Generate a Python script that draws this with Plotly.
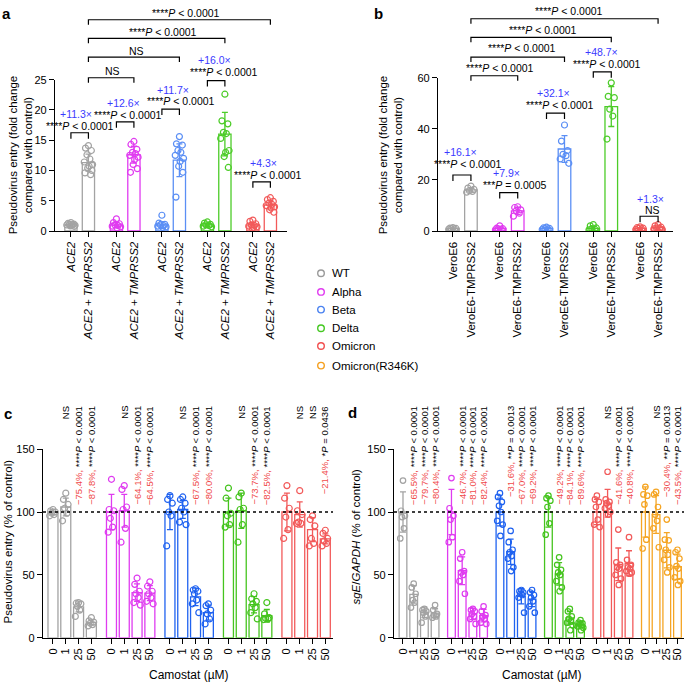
import plotly.graph_objects as go

W, H = 685, 688
FONT = "Liberation Sans, Arial, Helvetica, sans-serif"


def PX(x):
    return x / W


def PY(y):
    return 1 - y / H


# ------------------------------------------------------------------ data
legend_names = ["WT", "Alpha", "Beta", "Delta", "Omicron", "Omicron(R346K)"]
legend_colors = ["#9a9a9a", "#e03cf0", "#4a82f0", "#46c823", "#f25050", "#f5a020"]

ab_colors = ["#a3a3a3", "#e03cf0", "#5b8ff5", "#4ccc28", "#f25a5a"]
cd_colors = ["#a3a3a3", "#df3cf0", "#1f62f0", "#45c41e", "#f25a5a", "#f5a524"]

P4 = "****<i>P</i> &lt; 0.0001"

# panel a: fold change, ACE2 vs ACE2 + TMPRSS2
a_ticktext = ["<i>ACE2</i>", "<i>ACE2</i> + <i>TMPRSS2</i>"]
a_means = [[1.0, 11.3], [1.0, 12.6], [1.0, 11.7], [1.0, 16.0], [1.0, 4.3]]
a_sd = [[0.2, 1.4], [0.45, 1.4], [0.55, 2.7], [0.25, 3.6], [0.4, 0.7]]
a_points_wt = [[1.4, 1.25, 1.15, 1.1, 1.05, 1.0, 0.95, 0.9, 0.85, 0.75],
               [14.1, 13.7, 13.3, 12.6, 11.9, 11.4, 11.0, 10.7, 10.4, 10.0, 9.6, 9.3]]
a_points_alpha = [[2.0, 1.4, 1.2, 1.0, 0.9, 0.8, 0.7, 0.5],
                  [14.8, 14.3, 13.5, 13.0, 12.8, 12.5, 12.2, 11.8, 11.0, 10.3, 9.7]]
a_points_beta = [[2.6, 1.3, 1.1, 1.0, 0.9, 0.8, 0.7, 0.6],
                 [15.6, 14.4, 14.2, 13.3, 13.0, 12.5, 12.0, 11.5, 10.7, 9.7, 5.6]]
a_points_delta = [[1.5, 1.3, 1.1, 1.0, 0.9, 0.8, 0.7],
                  [22.6, 18.2, 17.7, 16.3, 16.1, 15.3, 13.3, 13.0, 12.3, 10.5]]
a_points_omicron = [[1.8, 1.6, 1.2, 1.0, 0.9, 0.8, 0.7, 0.6, 0.5],
                    [5.5, 5.2, 4.9, 4.6, 4.4, 4.2, 4.0, 3.8, 3.5, 3.1]]
a_points = [a_points_wt, a_points_alpha, a_points_beta, a_points_delta, a_points_omicron]
a_fold = ["+11.3×", "+12.6×", "+11.7×", "+16.0×", "+4.3×"]
a_pair_p = [P4, P4, P4, P4, P4]
a_top_p = ["NS", "NS", P4, P4]
a_yticks = [0, 5, 10, 15, 20, 25]

# panel b: fold change, VeroE6 vs VeroE6-TMPRSS2
b_ticktext = ["VeroE6", "VeroE6-TMPRSS2"]
b_means = [[1.0, 16.1], [1.0, 7.9], [1.0, 32.1], [1.0, 48.7], [1.0, 1.3]]
b_sd = [[0.25, 0.9], [0.5, 1.4], [0.3, 5.2], [0.7, 7.8], [0.35, 0.7]]
b_points_wt = [[1.3, 1.1, 1.0, 0.9, 0.8, 0.7], [17.6, 16.8, 16.3, 15.8, 15.5, 15.2]]
b_points_alpha = [[2.0, 1.1, 0.9, 0.8, 0.7, 0.5], [9.5, 9.2, 8.3, 7.9, 7.0, 5.8]]
b_points_beta = [[1.5, 1.2, 1.0, 0.9, 0.8, 0.6], [41.5, 35.2, 31.5, 30.0, 29.5, 28.2, 26.5]]
b_points_delta = [[2.5, 2.0, 1.2, 0.9, 0.7, 0.5], [58.0, 52.7, 52.2, 47.7, 45.0, 36.0]]
b_points_omicron = [[1.6, 1.3, 1.1, 1.0, 0.8, 0.6], [2.5, 2.0, 1.5, 1.2, 1.0, 0.8, 0.6]]
b_points = [b_points_wt, b_points_alpha, b_points_beta, b_points_delta, b_points_omicron]
b_fold = ["+16.1×", "+7.9×", "+32.1×", "+48.7×", "+1.3×"]
b_pair_p = [P4, "***<i>P</i> = 0.0005", P4, P4, "NS"]
b_top_p = [P4, P4, P4, P4]
b_yticks = [0, 20, 40, 60]

# panel c: pseudovirus entry (% of control) with camostat
doses = ["0", "1", "25", "50"]
c_means = [[100, 104, 24.6, 12.2], [100, 101, 35.9, 35.5], [100, 102, 32.5, 20.0],
           [100, 101, 26.3, 17.5], [100, 98, 86.0, 78.6]]
c_sd = [[2, 7, 4, 2], [14, 13, 7, 6], [14, 7, 7, 6], [11, 14, 6.5, 5], [15, 10, 9.5, 4]]
c_points_wt = [[102, 101, 100, 99, 98, 97], [115, 110, 106, 103, 99, 93],
               [28, 27.5, 27, 25, 22, 17], [16, 13.5, 12.5, 11.5, 10.5, 9.5]]
c_points_alpha = [[126, 102, 101, 95, 88, 84], [121, 118, 104, 102, 87, 76],
                  [47.5, 42.5, 37, 35, 32, 28, 26], [44.5, 41, 37, 35, 32, 29, 27]]
c_points_beta = [[113, 110, 107, 100, 97, 73], [112, 110, 107, 103, 100, 92, 90],
                 [39, 38, 37, 35, 30, 27, 20], [27, 25.5, 22, 19, 15, 11]]
c_points_delta = [[119, 111, 99, 97, 90, 88], [115, 112, 103, 102, 90, 76],
                  [35, 31, 29, 27, 24, 20, 15], [28, 19, 16, 15.5, 15, 14.5]]
c_points_omicron = [[121, 111, 103, 96, 86, 79], [117, 101, 98, 92, 91, 91],
                    [97, 94, 89, 79, 75, 73], [85.5, 83, 79, 77, 75, 73]]
c_points = [c_points_wt, c_points_alpha, c_points_beta, c_points_delta, c_points_omicron]
c_labels = [
    [(None, "NS"), ("−75.4%,", P4), ("−87.8%,", P4)],
    [(None, "NS"), ("−64.1%,", P4), ("−64.5%,", P4)],
    [(None, "NS"), ("−67.5%,", P4), ("−80.0%,", P4)],
    [(None, "NS"), ("−73.7%,", P4), ("−82.5%,", P4)],
    [(None, "NS"), (None, "NS"), ("−21.4%,", "*<i>P</i> = 0.0436")],
]

# panel d: sgE/GAPDH (% of control) with camostat
d_means = [[100, 34.5, 20.3, 19.6], [100, 53.3, 19.0, 17.6], [100, 68.4, 33.0, 30.8],
           [100, 50.8, 15.9, 10.4], [100, 107, 58.4, 59.2], [100, 98, 69.6, 56.5]]
d_sd = [[16, 7, 4, 3.5], [18, 11, 4.5, 5], [11, 10, 6, 6], [12, 9, 5, 2.5],
        [10, 11, 13, 10], [20, 15, 14, 10]]
d_points_wt = [[125, 101, 97, 96, 87, 79], [43, 40, 35, 30, 28, 24],
               [23, 22, 21, 20, 17, 12], [26, 22, 19, 18, 17, 16]]
d_points_alpha = [[127, 103, 97, 94, 80, 76], [68, 63, 53, 52, 50, 45, 35],
                  [23, 22, 21, 19, 17, 15, 11], [25, 21, 18, 17, 15, 12, 11]]
d_points_beta = [[115, 112, 108, 105, 100, 93, 90, 81], [85, 76, 70, 68, 65, 63, 56, 53],
                 [38, 37, 36, 35, 34, 32, 20], [38, 36, 34, 32, 29, 25, 20]]
d_points_delta = [[113, 111, 109, 104, 91, 82], [64, 58, 54, 52, 50, 45, 40, 37],
                  [23, 21, 17, 15, 13, 12, 10, 6], [14, 12, 11.5, 11, 10, 9, 8, 6]]
d_points_omicron = [[113, 110, 108, 104, 94, 90, 88], [132, 110, 108, 107, 105, 103, 100, 98],
                    [86, 60, 58, 56, 55, 50, 47, 42], [80, 62, 58, 56, 55, 53, 52, 51]]
d_points_r346k = [[120, 114, 113, 106, 78, 71], [116, 114, 104, 98, 93, 87, 72],
                  [94, 78, 77.5, 70, 66, 62, 56, 52], [70, 68, 63, 57, 55, 48, 45, 42]]
d_points = [d_points_wt, d_points_alpha, d_points_beta, d_points_delta,
            d_points_omicron, d_points_r346k]
d_labels = [
    [("−65.5%,", P4), ("−79.7%,", P4), ("−80.4%,", P4)],
    [("−46.7%,", P4), ("−81.0%,", P4), ("−82.4%,", P4)],
    [("−31.6%,", "**<i>P</i> = 0.0013"), ("−67.0%,", P4), ("−69.2%,", P4)],
    [("−49.2%,", P4), ("−84.1%,", P4), ("−89.6%,", P4)],
    [(None, "NS"), ("−41.6%,", P4), ("−40.8%,", P4)],
    [(None, "NS"), ("−30.4%,", "**<i>P</i> = 0.0013"), ("−43.5%,", P4)],
]
cd_yticks = [0, 50, 100, 150]

# ------------------------------------------------------------------ helpers
JIT = [0.0, -0.6, 0.6, -0.3, 0.3, -0.85, 0.85, 0.15, -0.15, 0.7, -0.7, 0.45]
RED = "#f04a4a"
BLUE_TXT = "#3a3aff"

fig = go.Figure()
shapes = []
annots = []


def add_group(xa, ya, positions, means, sds, points, color, bw, half, msize):
    fig.add_trace(go.Bar(
        x=positions, y=means, width=bw, xaxis=xa, yaxis=ya,
        marker=dict(color="rgba(0,0,0,0)", line=dict(color=color, width=1.3)),
        error_y=dict(type="data", array=sds, color=color, thickness=1.3, width=3),
        showlegend=False, hoverinfo="skip"))
    xs, ys = [], []
    for p, pts in zip(positions, points):
        xs += [p + JIT[i % len(JIT)] * half for i in range(len(pts))]
        ys += pts
    fig.add_trace(go.Scatter(
        x=xs, y=ys, mode="markers", xaxis=xa, yaxis=ya,
        marker=dict(symbol="circle-open", size=msize, color=color, line=dict(width=1.2)),
        showlegend=False, hoverinfo="skip"))


def bracket(xref, x0, x1, ypx, leg=6):
    y, yl = PY(ypx), PY(ypx + leg)
    shapes.append(dict(type="path", xref=xref, yref="paper",
                       path=f"M {x0},{yl} L {x0},{y} L {x1},{y} L {x1},{yl}",
                       line=dict(color="black", width=1.2)))


def text(xref, x, ypx, s, color="black", size=10.5, xshift=0):
    annots.append(dict(xref=xref, yref="paper", x=x, y=PY(ypx), text=s, showarrow=False,
                       xanchor="center", yanchor="middle", xshift=xshift,
                       font=dict(size=size, color=color, family=FONT)))


def vtext(xref, x, lab):
    pct, p = lab
    s = p if pct is None else f"<span style='color:{RED}'>{pct}</span> {p}"
    annots.append(dict(xref=xref, yref="paper", x=x, y=PY(405), text=s, showarrow=False,
                       textangle=-90, xanchor="center", yanchor="top",
                       font=dict(size=9.5, color="black", family=FONT)))


def paper_text(xpx, ypx, s, size=11.5, angle=0, xanchor="center"):
    annots.append(dict(xref="paper", yref="paper", x=PX(xpx), y=PY(ypx), text=s,
                       showarrow=False, textangle=angle, xanchor=xanchor, yanchor="middle",
                       font=dict(size=size, color="black", family=FONT)))


# ------------------------------------------------------------------ panel a
a_pos = [[g * 2.6 + k for k in range(2)] for g in range(5)]
for g in range(5):
    add_group("x", "y", a_pos[g], a_means[g], a_sd[g], a_points[g], ab_colors[g], 0.7, 0.28, 6)
a_pair_y = [129, 118, 105, 76, 179]
a_pair_ty = [122, 111, 97, 67, 172]
a_fold_y = [110, 99, 85, 55, 160]
a_pair_dx = [0, 2.5, 10, 8, 6]
a_fold_dx = [-3.5, -1.5, 2.5, -1.5, 1.5]
for g in range(5):
    x0, x1 = a_pos[g]
    bracket("x", x0, x1, a_pair_y[g])
    text("x", (x0 + x1) / 2, a_pair_ty[g], a_pair_p[g], xshift=a_pair_dx[g])
    text("x", (x0 + x1) / 2, a_fold_y[g], a_fold[g], color=BLUE_TXT, xshift=a_fold_dx[g])
a_top_y = [73, 52, 33, 14]
a_top_ty = [66, 46, 26, 7]
a_top_dx = [1.5, 3, 6.5, 7]
for i in range(4):
    x0, x1 = a_pos[0][1], a_pos[i + 1][1]
    bracket("x", x0, x1, a_top_y[i], leg=5)
    text("x", (x0 + x1) / 2, a_top_ty[i], a_top_p[i], xshift=a_top_dx[i])

# ------------------------------------------------------------------ panel b
b_pos = [[g * 2.6 + k for k in range(2)] for g in range(5)]
for g in range(5):
    add_group("x2", "y2", b_pos[g], b_means[g], b_sd[g], b_points[g], ab_colors[g], 0.7, 0.28, 6)
b_pair_y = [172, 190, 109, 67, 214]
b_pair_ty = [161, 182, 101, 59, 208]
b_fold_y = [149, 170, 89, 47, 196]
b_pair_dx = [6, 6, 4, 5, 3]
b_fold_dx = [-1, -2, -2.5, -1, 1]
for g in range(5):
    x0, x1 = b_pos[g]
    bracket("x2", x0, x1, b_pair_y[g])
    text("x2", (x0 + x1) / 2, b_pair_ty[g], b_pair_p[g], xshift=b_pair_dx[g])
    text("x2", (x0 + x1) / 2, b_fold_y[g], b_fold[g], color=BLUE_TXT, xshift=b_fold_dx[g])
b_top_y = [71, 52, 32, 13]
b_top_ty = [63, 43, 24, 5]
b_top_dx = [5.5, 4, 1.5, 4]
for i in range(4):
    x0, x1 = b_pos[0][1], b_pos[i + 1][1]
    bracket("x2", x0, x1, b_top_y[i], leg=5)
    text("x2", (x0 + x1) / 2, b_top_ty[i], b_top_p[i], xshift=b_top_dx[i])

# ------------------------------------------------------------------ panel c
c_pos = [[g * 4.57 + k for k in range(4)] for g in range(5)]
for g in range(5):
    add_group("x3", "y3", c_pos[g], c_means[g], c_sd[g], c_points[g], cd_colors[g], 0.78, 0.3, 6)
    for k in range(3):
        vtext("x3", c_pos[g][k + 1], c_labels[g][k])

# ------------------------------------------------------------------ panel d
d_pos = [[g * 4.53 + k for k in range(4)] for g in range(6)]
for g in range(6):
    add_group("x4", "y4", d_pos[g], d_means[g], d_sd[g], d_points[g], cd_colors[g], 0.72, 0.3, 5.5)
    for k in range(3):
        vtext("x4", d_pos[g][k + 1], d_labels[g][k])

# dotted 100% reference lines
for xr, yr in [("x3", "y3"), ("x4", "y4")]:
    shapes.append(dict(type="line", xref=f"{xr} domain", yref=yr, x0=0, x1=1, y0=100, y1=100,
                       line=dict(color="black", width=1.6, dash="dot")))

# ------------------------------------------------------------------ titles, letters, legend
paper_text(20, 152, "Pseudovirus entry (fold change<br>compared with control)", angle=-90)
paper_text(390, 152, "Pseudovirus entry (fold change<br>compared with control)", angle=-90)
paper_text(8, 545, "Pseudovirus entry (% of control)", angle=-90)
paper_text(356, 540, "<i>sgE</i>/<i>GAPDH</i> (% of control)", angle=-90)
paper_text(189, 681, "Camostat (µM)", size=12)
paper_text(542, 681, "Camostat (µM)", size=12)
for s, x, y in [("a", 0, 8), ("b", 372, 8), ("c", 2, 415), ("d", 346, 414)]:
    paper_text(x, y, f"<b>{s}</b>", size=15, xanchor="left")

leg_y = [272, 291, 309, 328, 346, 366]
for name, col, y in zip(legend_names, legend_colors, leg_y):
    shapes.append(dict(type="circle", xref="paper", yref="paper",
                       x0=PX(321 - 3.3), x1=PX(321 + 3.3), y0=PY(y + 3.3), y1=PY(y - 3.3),
                       line=dict(color=col, width=1.4)))
    paper_text(330, y, name, size=11.5, xanchor="left")

# ------------------------------------------------------------------ axes
AX = dict(showline=True, linecolor="black", linewidth=1.3, ticks="outside", ticklen=5,
          tickwidth=1.3, tickcolor="black", showgrid=False, zeroline=False, fixedrange=True,
          tickfont=dict(size=11, color="black", family=FONT))


def xax(dom, rng, vals, txt, size):
    d = dict(AX)
    d.update(domain=[PX(dom[0]), PX(dom[1])], range=rng, tickmode="array", tickvals=vals,
             ticktext=txt, tickangle=-90, tickfont=dict(size=size, color="black", family=FONT))
    return d


def yax(dom, rng, vals, anchor):
    d = dict(AX)
    d.update(domain=[PY(dom[0]), PY(dom[1])], range=rng, tickmode="array", tickvals=vals,
             anchor=anchor)
    return d


flat = lambda pos: [p for grp in pos for p in grp]
fig.update_layout(
    width=W, height=H, margin=dict(l=0, r=0, t=0, b=0),
    paper_bgcolor="white", plot_bgcolor="white", barmode="overlay", showlegend=False,
    font=dict(family=FONT, color="black"),
    xaxis=xax((55, 287), [-0.91, 12.35], flat(a_pos), a_ticktext * 5, 11.5) | dict(anchor="y"),
    yaxis=yax((229, 75), [0, 25], a_yticks, "x"),
    xaxis2=xax((438, 673), [-0.83, 12.23], flat(b_pos), b_ticktext * 5, 11.5) | dict(anchor="y2"),
    yaxis2=yax((229, 73), [0, 60], b_yticks, "x2"),
    xaxis3=xax((43, 333), [-0.78, 21.88], flat(c_pos), doses * 5, 11) | dict(anchor="y3"),
    yaxis3=yax((643, 451), [0, 150], cd_yticks, "x3"),
    xaxis4=xax((394, 684), [-0.84, 26.26], flat(d_pos), doses * 6, 11) | dict(anchor="y4"),
    yaxis4=yax((643, 451), [0, 150], cd_yticks, "x4"),
    shapes=shapes, annotations=annots,
)

fig.write_html("out.html", config={"displayModeBar": False},
               post_script="document.body.style.margin='0px';document.body.style.overflow='hidden';")
